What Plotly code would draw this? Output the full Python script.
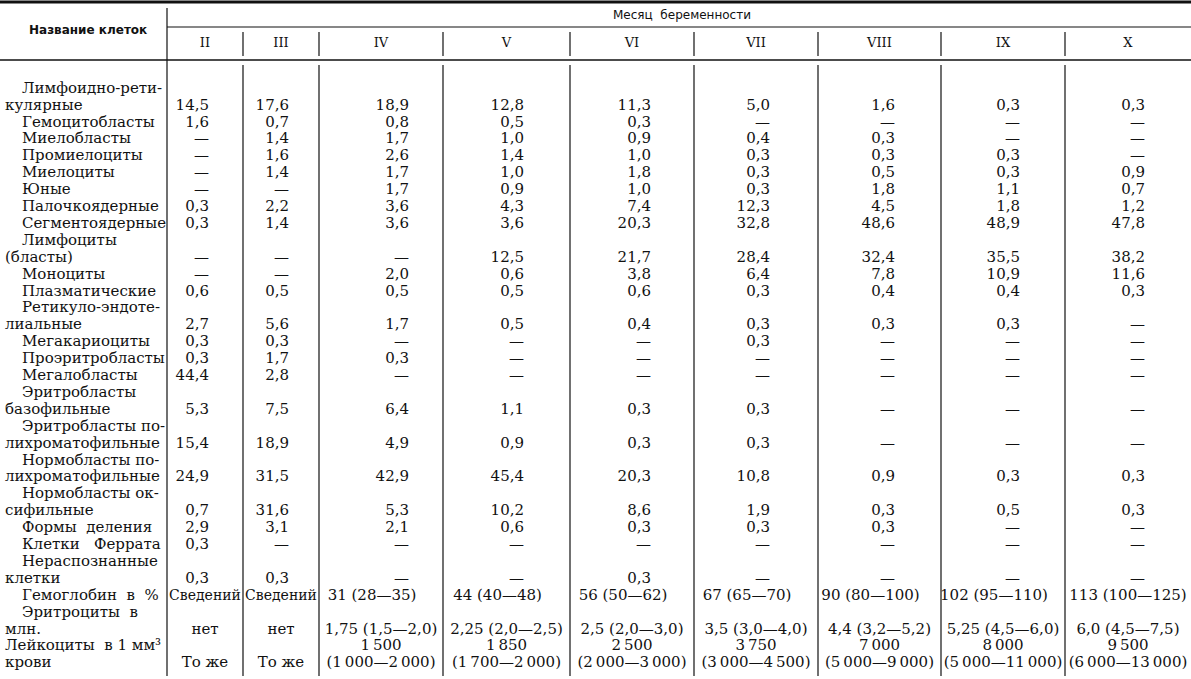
import plotly.graph_objects as go

# --- Data -----------------------------------------------------
months = ["II", "III", "IV", "V", "VI", "VII", "VIII", "IX", "X"]

# cell names, split into printed lines (first line indented)
cell_names = [
    ["Лимфоидно-рети-", "кулярные"],
    ["Гемоцитобласты"],
    ["Миелобласты"],
    ["Промиелоциты"],
    ["Миелоциты"],
    ["Юные"],
    ["Палочкоядерные"],
    ["Сегментоядерные"],
    ["Лимфоциты", "(бласты)"],
    ["Моноциты"],
    ["Плазматические"],
    ["Ретикуло-эндоте-", "лиальные"],
    ["Мегакариоциты"],
    ["Проэритробласты"],
    ["Мегалобласты"],
    ["Эритробласты", "базофильные"],
    ["Эритробласты по-", "лихроматофильные"],
    ["Нормобласты по-", "лихроматофильные"],
    ["Нормобласты ок-", "сифильные"],
    ["Формы\u00a0\u00a0деления"],
    ["Клетки\u00a0\u00a0\u00a0Феррата"],
    ["Нераспознанные", "клетки"],
]

# percentage of each cell type, one list per month (— = not found)
m_II = ["14,5", "1,6", "—", "—", "—", "—", "0,3", "0,3", "—", "—", "0,6",
        "2,7", "0,3", "0,3", "44,4", "5,3", "15,4", "24,9", "0,7", "2,9", "0,3", "0,3"]
m_III = ["17,6", "0,7", "1,4", "1,6", "1,4", "—", "2,2", "1,4", "—", "—", "0,5",
         "5,6", "0,3", "1,7", "2,8", "7,5", "18,9", "31,5", "31,6", "3,1", "—", "0,3"]
m_IV = ["18,9", "0,8", "1,7", "2,6", "1,7", "1,7", "3,6", "3,6", "—", "2,0", "0,5",
        "1,7", "—", "0,3", "—", "6,4", "4,9", "42,9", "5,3", "2,1", "—", "—"]
m_V = ["12,8", "0,5", "1,0", "1,4", "1,0", "0,9", "4,3", "3,6", "12,5", "0,6", "0,5",
       "0,5", "—", "—", "—", "1,1", "0,9", "45,4", "10,2", "0,6", "—", "—"]
m_VI = ["11,3", "0,3", "0,9", "1,0", "1,8", "1,0", "7,4", "20,3", "21,7", "3,8", "0,6",
        "0,4", "—", "—", "—", "0,3", "0,3", "20,3", "8,6", "0,3", "—", "0,3"]
m_VII = ["5,0", "—", "0,4", "0,3", "0,3", "0,3", "12,3", "32,8", "28,4", "6,4", "0,3",
         "0,3", "0,3", "—", "—", "0,3", "0,3", "10,8", "1,9", "0,3", "—", "—"]
m_VIII = ["1,6", "—", "0,3", "0,3", "0,5", "1,8", "4,5", "48,6", "32,4", "7,8", "0,4",
          "0,3", "—", "—", "—", "—", "—", "0,9", "0,3", "0,3", "—", "—"]
m_IX = ["0,3", "—", "—", "0,3", "0,3", "1,1", "1,8", "48,9", "35,5", "10,9", "0,4",
        "0,3", "—", "—", "—", "—", "—", "0,3", "0,5", "—", "—", "—"]
m_X = ["0,3", "—", "—", "—", "0,9", "0,7", "1,2", "47,8", "38,2", "11,6", "0,3",
       "—", "—", "—", "—", "—", "—", "0,3", "0,3", "—", "—", "—"]
cell_values = [m_II, m_III, m_IV, m_V, m_VI, m_VII, m_VIII, m_IX, m_X]

# blood indices
hemoglobin = ["Сведений", "Сведений", "31 (28—35)", "44 (40—48)", "56 (50—62)",
              "67 (65—70)", "90 (80—100)", "102 (95—110)", "113 (100—125)"]
erythrocytes = ["нет", "нет", "1,75 (1,5—2,0)", "2,25 (2,0—2,5)", "2,5 (2,0—3,0)",
                "3,5 (3,0—4,0)", "4,4 (3,2—5,2)", "5,25 (4,5—6,0)", "6,0 (4,5—7,5)"]
leuko_mean = ["", "", "1\u2009500", "1\u2009850", "2\u2009500", "3\u2009750",
              "7\u2009000", "8\u2009000", "9\u2009500"]
leuko_range = ["То же", "То же", "(1\u2009000—2\u2009000)", "(1\u2009700—2\u2009000)",
               "(2\u2009000—3\u2009000)", "(3\u2009000—4\u2009500)", "(5\u2009000—9\u2009000)",
               "(5\u2009000—11\u2009000)", "(6\u2009000—13\u2009000)"]

# --- Layout (pixel-like axis units) ---------------------------
W, H = 1191, 679
col_lines = [167, 243, 319, 443, 570, 694, 818, 941, 1065, 1191]
num_right = [209, 289, 409, 524, 651, 770, 895, 1020, 1145]
col_mid = [(a + b) / 2 for a, b in zip(col_lines[:-1], col_lines[1:])]
line0, step = 89, 16.9
SERIF = "DejaVu Serif"
INK = "#111111"

def line_y(i):
    return line0 + i * step

name_x, name_y, name_t = [], [], []
val_x, val_y, val_t = [], [], []
mid_x, mid_y, mid_t, mid_s = [], [], [], []

# cell rows
li = 0
for r, parts in enumerate(cell_names):
    for k, part in enumerate(parts):
        name_x.append(22 if k == 0 else 5)
        name_y.append(line_y(li + k))
        name_t.append(part)
    last = li + len(parts) - 1
    for c in range(len(months)):
        val_x.append(num_right[c])
        val_y.append(line_y(last))
        val_t.append(cell_values[c][r])
    li += len(parts)

# blood indices rows
extra_names = [(22, "Гемоглобин\u00a0\u00a0в\u00a0\u00a0%"), (22, "Эритроциты\u00a0\u00a0в"), (5, "млн."),
               (5, "Лейкоциты\u00a0\u00a0в\u00a01\u00a0мм³"), (5, "крови")]
for k, (x, t) in enumerate(extra_names):
    name_x.append(x)
    name_y.append(line_y(li + k))
    name_t.append(t)

for c in range(len(months)):
    shift = -9 if 2 <= c <= 7 else 0
    mid_x += [col_mid[c] + shift, col_mid[c], col_mid[c], col_mid[c]]
    mid_y += [line_y(li), line_y(li + 2), line_y(li + 3), line_y(li + 4)]
    mid_t += [hemoglobin[c], erythrocytes[c], leuko_mean[c], leuko_range[c]]
    # "Сведений" has to fit inside the narrow early-month columns
    mid_s += [14 if c < 2 else 15, 15, 15, 15]

fig = go.Figure()

fig.add_trace(go.Scatter(x=name_x, y=name_y, text=name_t, mode="text",
                         textposition="middle right",
                         textfont=dict(family=SERIF, size=15, color=INK),
                         hoverinfo="skip"))
fig.add_trace(go.Scatter(x=val_x, y=val_y, text=val_t, mode="text",
                         textposition="middle left",
                         textfont=dict(family=SERIF, size=15, color=INK),
                         hoverinfo="skip"))
fig.add_trace(go.Scatter(x=mid_x, y=mid_y, text=mid_t, mode="text",
                         textposition="middle center",
                         textfont=dict(family=SERIF, size=mid_s, color=INK),
                         hoverinfo="skip"))

# header
fig.add_trace(go.Scatter(x=col_mid, y=[44] * len(months), text=months, mode="text",
                         textposition="middle center",
                         textfont=dict(family=SERIF, size=13, color=INK),
                         hoverinfo="skip"))
fig.add_annotation(x=88, y=30, text="<b>Название клеток</b>", showarrow=False,
                   font=dict(family="DejaVu Sans", size=12, color=INK))
fig.add_annotation(x=682, y=15, text="Месяц\u00a0 беременности",
                   showarrow=False, font=dict(family="DejaVu Sans", size=12, color=INK))

# rules
rule = dict(color=INK, width=1.2)
fig.add_shape(type="line", x0=0, x1=W, y0=2, y1=2, line=dict(color=INK, width=3))
fig.add_shape(type="line", x0=col_lines[0], x1=W, y0=27, y1=27, line=rule)
fig.add_shape(type="line", x0=0, x1=W, y0=60, y1=60, line=dict(color=INK, width=1.5))
fig.add_shape(type="line", x0=col_lines[0], x1=col_lines[0], y0=8, y1=676, line=rule)
for x in col_lines[1:-1]:
    fig.add_shape(type="line", x0=x, x1=x, y0=32, y1=56, line=rule)
    fig.add_shape(type="line", x0=x, x1=x, y0=65, y1=676, line=rule)

fig.update_xaxes(range=[0, W], visible=False, fixedrange=True)
fig.update_yaxes(range=[H, 0], visible=False, fixedrange=True)
fig.update_layout(width=W, height=H, margin=dict(l=0, r=0, t=0, b=0),
                  paper_bgcolor="white", plot_bgcolor="white", showlegend=False)

# page body has an 8px default margin; drop it so the table fills the window
fig.write_html("out.html", config={"displayModeBar": False},
               post_script="document.body.style.margin='0';document.body.style.overflow='hidden';")
